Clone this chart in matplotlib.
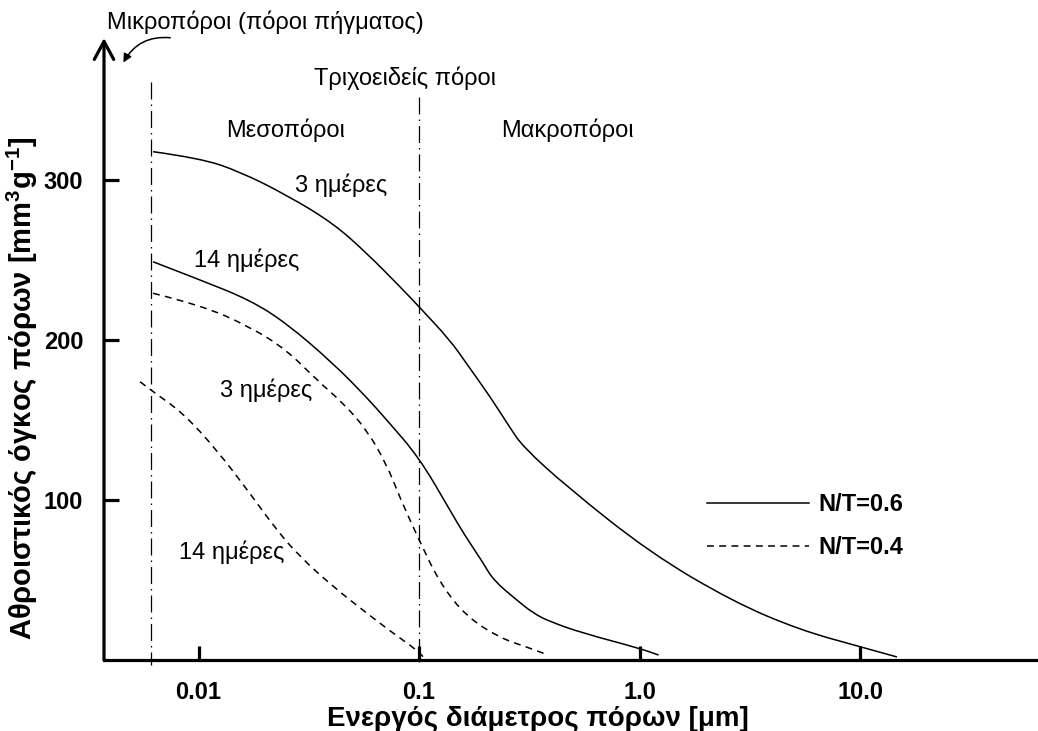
import matplotlib.pyplot as plt
from matplotlib.path import Path
from matplotlib.patches import PathPatch
from matplotlib.lines import Line2D

plt.rcParams['font.family'] = ['Liberation Sans', 'DejaVu Sans']
plt.rcParams['mathtext.fontset'] = 'custom'
plt.rcParams['mathtext.rm'] = 'Liberation Sans'
plt.rcParams['mathtext.bf'] = 'Liberation Sans:bold'

# N/T=0.6, 3 days
s3_x = [0.00622, 0.0102, 0.0154, 0.0251, 0.0407, 0.058, 0.082, 0.1, 0.138, 0.164,
        0.21, 0.259, 0.296, 0.468, 1.12, 2.66, 5.34, 10.0, 14.7]
s3_y = [317.7, 313.6, 305.2, 290.6, 273.1, 254.2, 233.3, 220.8, 200, 185.4,
        164.6, 145, 133.3, 108.3, 66.9, 36.4, 18.75, 8.3, 1.9]
# N/T=0.6, 14 days
s14_x = [0.00622, 0.0102, 0.0171, 0.0251, 0.0408, 0.058, 0.0714, 0.1, 0.138, 0.159,
         0.196, 0.217, 0.277, 0.33, 0.393, 0.556, 1.0, 1.22]
s14_y = [248.9, 237.5, 225, 210.4, 185.4, 164, 150, 126.6, 93.75, 79.2,
         60.4, 50, 37.5, 29.2, 23.9, 16.7, 7.3, 3.1]
# N/T=0.4, 3 days
d3_x = [0.00622, 0.0102, 0.0171, 0.0251, 0.0344, 0.0454, 0.058, 0.0714, 0.082, 0.1,
        0.1245, 0.164, 0.233, 0.308, 0.385]
d3_y = [229.2, 221.9, 208.3, 193.75, 175, 160.4, 143.75, 122, 101.25, 75,
        47.9, 27.1, 13.75, 8.1, 3.1]
# N/T=0.4, 14 days
d14_x = [0.00543, 0.00622, 0.00853, 0.0121, 0.0171, 0.0226, 0.0288, 0.0408, 0.058,
         0.0764, 0.0976, 0.1042]
d14_y = [173.9, 167.7, 154.2, 131.25, 104.2, 81.25, 64.6, 45.8, 29.2,
         16.7, 6.25, 2.1]

x_ticks = [0.01, 0.1, 1.0, 10.0]
x_tick_labels = ['0.01', '0.1', '1.0', '10.0']
y_ticks = [100, 200, 300]

micro_limit = 0.00609
capillary_limit = 0.1


def smooth_curve(ax, xs, ys, **kw):
    # quadratic bezier through midpoints, readings used as control points
    verts = [(xs[0], ys[0])]
    codes = [Path.MOVETO]
    for i in range(1, len(xs) - 1):
        verts += [(xs[i], ys[i]), ((xs[i] * xs[i + 1]) ** 0.5, (ys[i] + ys[i + 1]) / 2)]
        codes += [Path.CURVE3, Path.CURVE3]
    verts.append((xs[-1], ys[-1]))
    codes.append(Path.LINETO)
    ax.add_patch(PathPatch(Path(verts, codes), facecolor='none', edgecolor='black', **kw))


fig = plt.figure(figsize=(10.38, 7.31), dpi=100)
ax = fig.add_axes([104 / 1038, 1 - 660 / 731, 934 / 1038, 622 / 731])
ax.set_xscale('log')
ax.set_xlim(0.003727, 64.1)
ax.set_ylim(0, 388.75)

dash = (0, (4.5, 3.5))
smooth_curve(ax, s3_x, s3_y, lw=1.1)
smooth_curve(ax, s14_x, s14_y, lw=1.1)
smooth_curve(ax, d3_x, d3_y, lw=1.1, linestyle=dash)
smooth_curve(ax, d14_x, d14_y, lw=1.1, linestyle=dash)

# pore class boundaries
dashdot = (0, (13.6, 4, 1.2, 4))
ax.plot([micro_limit, micro_limit], [361, -3], color='black', lw=0.9,
        linestyle=dashdot, clip_on=False)
ax.plot([capillary_limit, capillary_limit], [352, -3], color='black', lw=0.9,
        linestyle=dashdot, clip_on=False)

fs = 17
ax.text(0.0443, 296.9, '3 ημέρες', fontsize=fs, ha='center', va='center')
ax.text(0.0166, 250, '14 ημέρες', fontsize=fs, ha='center', va='center')
ax.text(0.0202, 168.75, '3 ημέρες', fontsize=fs, ha='center', va='center')
ax.text(0.01419, 67.5, '14 ημέρες', fontsize=fs, ha='center', va='center')
ax.text(0.0247, 331.25, 'Μεσοπόροι', fontsize=fs, ha='center', va='center')
ax.text(0.469, 331.25, 'Μακροπόροι', fontsize=fs, ha='center', va='center')
ax.text(0.0864, 363.75, 'Τριχοειδείς πόροι', fontsize=fs, ha='center', va='center')
ax.text(0.003846, 398.75, 'Μικροπόροι (πόροι πήγματος)', fontsize=fs,
        ha='left', va='center', clip_on=False)
ax.annotate('', xy=(0.0045, 371.9), xytext=(0.00766, 388.75),
            arrowprops=dict(arrowstyle='-|>,head_length=0.5,head_width=0.25',
                            connectionstyle='arc3,rad=0.35', color='black', lw=1.1),
            annotation_clip=False)

# axes: thick x axis, y axis drawn as an arrow
for side in ['top', 'right', 'left']:
    ax.spines[side].set_visible(False)
ax.spines['bottom'].set_linewidth(2.3)
ax.annotate('', xy=(0, 1.0), xytext=(0, 0), xycoords='axes fraction',
            arrowprops=dict(arrowstyle='->,head_length=1.3,head_width=0.7',
                            color='black', lw=2.3, shrinkA=0, shrinkB=0))

ax.set_xticks(x_ticks)
ax.set_xticklabels(x_tick_labels)
ax.minorticks_off()
ax.set_yticks(y_ticks)
ax.tick_params(axis='both', direction='in', width=2.3, labelsize=fs)
ax.tick_params(axis='x', length=10, pad=15)
ax.tick_params(axis='y', length=11, pad=15)
for lab in ax.get_xticklabels() + ax.get_yticklabels():
    lab.set_fontweight('bold')

ax.set_xlabel('Ενεργός διάμετρος πόρων [μm]', fontsize=20, fontweight='bold')
ax.xaxis.set_label_coords((538 - 104) / 934, -(706 - 660) / 622)
ax.set_ylabel(r'Αθροιστικός όγκος πόρων [mm$^{\mathbf{3}}$g$^{\mathbf{-1}}$]',
              fontsize=21, fontweight='bold')
ax.yaxis.set_label_coords(-(104 - 40) / 934, (660 - 388) / 622)

handles = [Line2D([], [], color='black', lw=1.1),
           Line2D([], [], color='black', lw=1.1, linestyle=dash)]
ax.legend(handles, ['N/T=0.6', 'N/T=0.4'], loc='center left',
          bbox_to_anchor=(707 / 1038, 1 - 526 / 731),
          bbox_transform=fig.transFigure, frameon=False,
          prop=dict(size=fs, weight='bold'), handlelength=4.3,
          handletextpad=0.42, labelspacing=0.85, borderpad=0, borderaxespad=0)

fig.savefig('out.png', dpi=100)
